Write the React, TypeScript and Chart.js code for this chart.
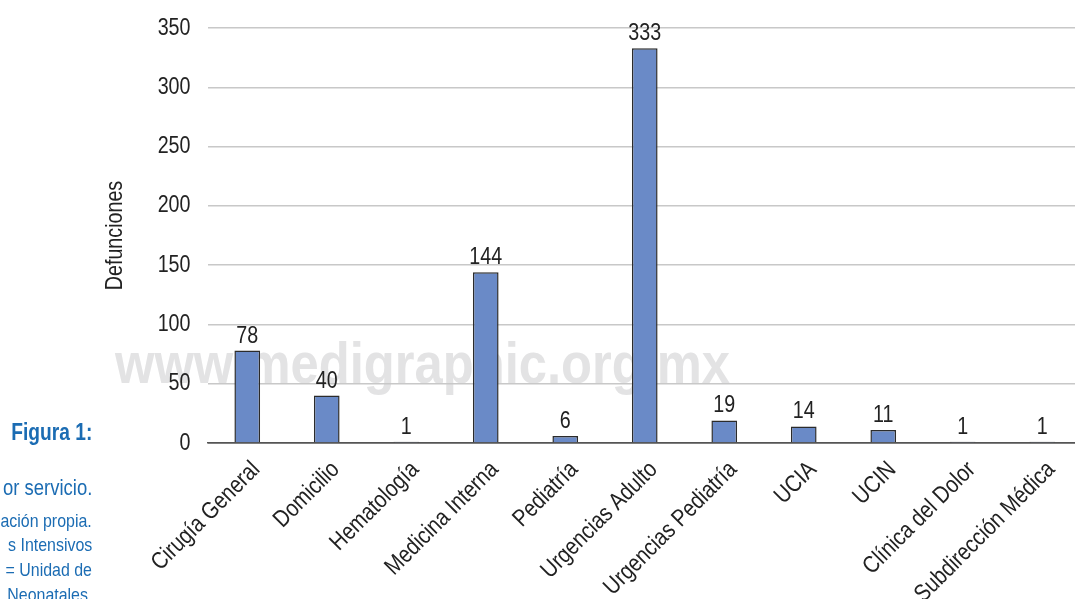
import React, { useEffect, useRef } from "react";
import { Chart, registerables } from "chart.js";

Chart.register(...registerables);

const categories = [
  "Cirugía General",
  "Domicilio",
  "Hematología",
  "Medicina Interna",
  "Pediatría",
  "Urgencias Adulto",
  "Urgencias Pediatría",
  "UCIA",
  "UCIN",
  "Clínica del Dolor",
  "Subdirección Médica",
];
const deaths = [78, 40, 1, 144, 6, 333, 19, 14, 11, 1, 1];
const yMin = 0;
const yMax = 350;
const yStep = 50;
const yTitle = "Defunciones";
const watermark = "www.medigraphic.org.mx";
const captionTitle = "Figura 1:";
const captionLines = ["or servicio.", "ación propia.", "s Intensivos", "= Unidad de", "Neonatales."];

const FAMILY = '"Liberation Sans", Arial, Helvetica, sans-serif';
const TEXT = "#222222";
const SX = 0.82; // horizontal condensing of the text, to match the narrow face

function narrowText(
  ctx: CanvasRenderingContext2D,
  text: string,
  x: number,
  y: number,
  opts: { angle?: number; align?: CanvasTextAlign; baseline?: CanvasTextBaseline; size?: number; sx?: number }
) {
  ctx.save();
  ctx.translate(x, y);
  if (opts.angle) ctx.rotate(opts.angle);
  ctx.scale(opts.sx ?? SX, 1);
  ctx.font = `${opts.size ?? 24}px ${FAMILY}`;
  ctx.fillStyle = TEXT;
  ctx.textAlign = opts.align ?? "center";
  ctx.textBaseline = opts.baseline ?? "middle";
  ctx.fillText(text, 0, 0);
  ctx.restore();
}

const watermarkPlugin = {
  id: "watermark",
  beforeDraw(chart: any) {
    const ctx = chart.ctx as CanvasRenderingContext2D;
    ctx.save();
    ctx.font = `bold 58px ${FAMILY}`;
    const w = ctx.measureText(watermark).width;
    ctx.translate(115, 383);
    ctx.scale(615 / w, 1);
    ctx.fillStyle = "#e3e3e4";
    ctx.textAlign = "left";
    ctx.textBaseline = "alphabetic";
    ctx.fillText(watermark, 0, 0);
    ctx.restore();
  },
};

const textPlugin = {
  id: "narrowLabels",
  afterDraw(chart: any) {
    const ctx = chart.ctx as CanvasRenderingContext2D;
    const xs = chart.scales.x;
    const ys = chart.scales.y;
    const area = chart.chartArea;
    // y tick labels
    ys.ticks.forEach((t: any) => {
      narrowText(ctx, String(t.value), area.left - 17, ys.getPixelForValue(t.value), {
        align: "right",
        baseline: "middle",
      });
    });
    // y title
    narrowText(ctx, yTitle, 115, (area.top + area.bottom) / 2, {
      angle: -Math.PI / 2,
      align: "center",
      baseline: "middle",
    });
    // x tick labels, rotated 45 degrees
    categories.forEach((c, i) => {
      narrowText(ctx, c, xs.getPixelForTick(i) + 9, area.bottom + 23, {
        angle: -Math.PI / 4,
        align: "right",
        baseline: "middle",
        sx: 0.84,
      });
    });
    // value labels
    const meta = chart.getDatasetMeta(0);
    meta.data.forEach((bar: any, i: number) => {
      narrowText(ctx, String(deaths[i]), bar.x, bar.y - 8, { align: "center", baseline: "alphabetic" });
    });
  },
};

export default function App() {
  const ref = useRef<HTMLCanvasElement>(null);
  useEffect(() => {
    if (!ref.current) return;
    const chart = new Chart(ref.current, {
      type: "bar",
      data: {
        labels: categories,
        datasets: [
          {
            data: deaths,
            backgroundColor: "#6a8ac7",
            borderColor: "#2b2b2b",
            borderWidth: 1.5,
            borderSkipped: "bottom",
            categoryPercentage: 1,
            barPercentage: 0.323,
          },
        ],
      },
      options: {
        animation: false,
        responsive: true,
        maintainAspectRatio: false,
        layout: { padding: { top: 28, left: 0, right: 0, bottom: 0 } },
        plugins: {
          legend: { display: false },
          tooltip: { enabled: false },
        },
        scales: {
          x: {
            grid: { display: false, drawTicks: false },
            border: { display: true, color: "#555555", width: 1.5 },
            ticks: { display: false, autoSkip: false },
            afterFit(scale: any) {
              scale.height = 156;
              scale.paddingLeft = 0;
              scale.paddingRight = 0;
            },
          },
          y: {
            min: yMin,
            max: yMax,
            grid: {
              drawTicks: false,
              color: (c: any) => (c.tick && c.tick.value === 0 ? "#555555" : "#c8c8c8"),
              lineWidth: 1.5,
            },
            border: { display: false },
            ticks: { display: false, stepSize: yStep },
            afterFit(scale: any) {
              scale.width = 207.5;
            },
          },
        },
      },
      plugins: [watermarkPlugin, textPlugin],
    });
    return () => chart.destroy();
  }, []);

  const capStyle: React.CSSProperties = {
    position: "absolute",
    right: 1075 - 92,
    whiteSpace: "nowrap",
    color: "#1b6cb3",
    fontFamily: FAMILY,
    lineHeight: 1,
    transformOrigin: "right center",
    transform: "scaleX(0.84)",
  };
  const lineY = [488, 520, 544, 569, 594];
  const lineSize = [22, 19, 19, 19, 19];

  return (
    <div
      style={{
        position: "fixed",
        left: 0,
        top: 0,
        width: 1075,
        height: 599,
        overflow: "hidden",
        background: "#ffffff",
      }}
    >
      <div style={{ position: "absolute", left: 0, top: 0, width: 1082, height: 599 }}>
        <canvas ref={ref} />
      </div>
      <div style={{ ...capStyle, top: 432 - 12, fontSize: 24, fontWeight: "bold", transform: "scaleX(0.8)" }}>
        {captionTitle}
      </div>
      {captionLines.map((t, i) => (
        <div key={i} style={{ ...capStyle, top: lineY[i] - lineSize[i] / 2, fontSize: lineSize[i] }}>
          {t}
        </div>
      ))}
    </div>
  );
}
